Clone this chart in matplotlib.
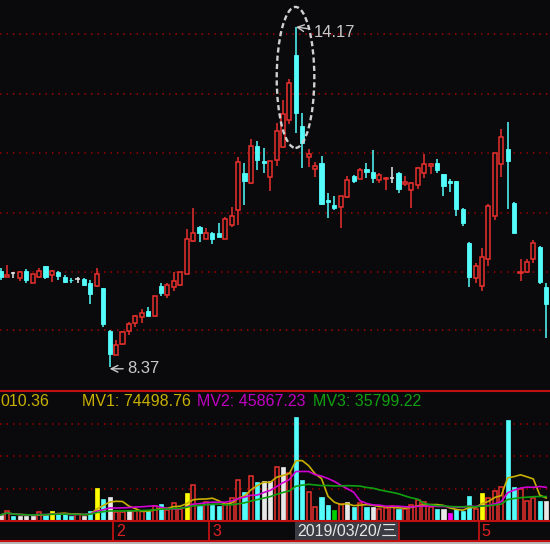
import numpy as np
import pandas as pd
import matplotlib
matplotlib.use("Agg")
import matplotlib.pyplot as plt
from matplotlib.patches import Ellipse, Rectangle

# ---------------- data ----------------
opens = [10.01, 9.91, 9.97, 9.89, 10.01, 9.80, 9.91, 10.09, 9.94, 9.99,
         9.91, 9.86, 9.87, 9.87, 9.80, 9.75, 9.72, 8.98, 8.58, 8.76,
         8.98, 9.12, 9.22, 9.33, 9.24, 9.75, 9.60, 9.74, 9.77, 9.96,
         10.52, 10.76, 10.56, 10.66, 10.66, 10.56, 10.80, 11.05, 11.68, 11.51,
         12.14, 11.88, 11.61, 11.90, 12.12, 12.58, 13.69, 12.48, 11.95, 11.75,
         11.85, 11.22, 11.13, 11.10, 11.27, 11.63, 11.58, 11.75, 11.70, 11.56,
         11.58, 11.59, 11.68, 11.50, 11.39, 11.48, 11.68, 11.80, 11.85, 11.66,
         11.54, 11.54, 11.07, 10.49, 9.89, 9.75, 10.21, 10.95, 11.83, 12.09,
         11.17, 9.98, 9.99, 10.21, 10.42, 9.74]
highs = [10.06, 10.11, 9.99, 10.00, 10.04, 9.96, 10.06, 10.10, 10.02, 10.00,
         9.94, 9.89, 9.91, 9.89, 9.85, 10.06, 9.72, 9.00, 8.83, 8.98,
         9.14, 9.26, 9.36, 9.39, 9.58, 9.80, 9.80, 9.99, 9.99, 10.73,
         11.08, 10.77, 10.75, 10.67, 10.83, 10.93, 11.10, 11.95, 11.85, 12.26,
         12.23, 12.11, 11.88, 12.53, 12.93, 13.28, 14.17, 12.70, 12.09, 11.87,
         11.97, 11.34, 11.29, 11.29, 11.63, 11.64, 11.77, 11.85, 12.07, 11.68,
         11.61, 11.78, 11.69, 11.63, 11.52, 11.78, 12.00, 11.85, 11.92, 11.67,
         11.58, 11.55, 11.08, 10.50, 10.14, 10.40, 11.15, 12.02, 12.43, 12.55,
         11.18, 10.21, 10.21, 10.54, 10.43, 9.80]
lows = [9.85, 9.90, 9.89, 9.84, 9.80, 9.80, 9.89, 9.87, 9.82, 9.85,
        9.80, 9.80, 9.80, 9.75, 9.44, 9.74, 9.05, 8.37, 8.57, 8.75,
        8.91, 9.05, 9.12, 9.24, 9.23, 9.58, 9.55, 9.67, 9.76, 9.95,
        10.51, 10.51, 10.55, 10.47, 10.59, 10.55, 10.76, 10.80, 11.13, 11.50,
        11.73, 11.68, 11.38, 11.80, 12.11, 12.52, 12.36, 11.77, 11.78, 11.61,
        11.13, 10.92, 11.05, 10.75, 11.26, 11.51, 11.57, 11.59, 11.51, 11.51,
        11.39, 11.51, 11.34, 11.46, 11.08, 11.41, 11.59, 11.66, 11.68, 11.29,
        11.36, 10.95, 10.78, 9.74, 9.80, 9.67, 10.09, 10.88, 11.61, 11.07,
        10.66, 9.84, 9.97, 10.14, 9.79, 8.86]
closes = [9.91, 9.94, 9.97, 9.99, 9.85, 9.96, 10.01, 9.91, 10.01, 9.92,
          9.82, 9.85, 9.87, 9.77, 9.61, 9.96, 9.10, 8.59, 8.75, 8.97,
          9.10, 9.24, 9.29, 9.24, 9.58, 9.63, 9.77, 9.84, 9.99, 10.56,
          10.66, 10.66, 10.66, 10.56, 10.59, 10.90, 10.95, 11.87, 11.54, 12.14,
          11.90, 11.85, 11.88, 12.40, 12.68, 13.22, 12.70, 12.19, 12.00, 11.80,
          11.15, 11.19, 11.08, 11.29, 11.56, 11.54, 11.73, 11.70, 11.59, 11.65,
          11.60, 11.59, 11.41, 11.53, 11.51, 11.77, 11.83, 11.83, 11.73, 11.46,
          11.51, 11.07, 10.83, 9.91, 10.09, 10.25, 11.12, 12.02, 12.29, 11.88,
          10.66, 9.99, 10.16, 10.48, 9.82, 9.44]
volumes = [7440, 12400, 6200, 6200, 6200, 6200, 11160, 7440, 12400, 8680,
           8680, 6200, 8680, 6200, 12400, 40920, 27900, 29760, 11160, 11160,
           12400, 12400, 12400, 12400, 18600, 21080, 14260, 22940, 14880, 34720,
           44640, 18600, 23560, 19840, 18600, 21080, 29140, 50840, 35960, 55800,
           48360, 49600, 49600, 67580, 67580, 59520, 128960, 50840, 35960, 17360,
           29760, 19840, 13640, 21080, 23560, 17360, 22320, 17360, 17360, 14880,
           16120, 18600, 14880, 14880, 19840, 26040, 23560, 17360, 14880, 14880,
           9920, 14880, 12400, 31000, 14880, 34720, 28520, 37200, 42160, 125240,
           42160, 39680, 24800, 28520, 24800, 24800]
vol_kind = list("wrcwwwrcyc" "ccrwcycwrr" "wrrcrcrrry" "rcrccrrrcr"
                "cwwrwrccrr" "ccgrwcrcwr" "rrcrrrrrcw" "mcccryrrrc"
                "crrrcw")
mv_labels = ["010.36", "MV1: 74498.76", "MV2: 45867.23", "MV3: 35799.22"]
month_labels = ["2", "3", "5"]
month_pos = [17.5, 32.5, 74.5]
cursor_label = "2019/03/20/\u4e09"
hi_label, lo_label = "14.17", "8.37"
price_grid = [14.05, 13.03, 12.02, 11.00, 9.99, 9.00]
vol_grid = [40000, 80000, 120000]

# ---------------- style ----------------
BG = "#0a0a0d"
RED = "#e8302c"
CYAN = "#54fcfc"
WHITE = "#e8e8e8"
GRID = "#a00000"
AXRED = "#c01010"
KIND_COL = {"r": RED, "c": CYAN, "w": WHITE, "y": "#ffff00", "g": "#00d000", "m": "#ff00ff"}
FONT = ["Liberation Sans", "Noto Sans CJK SC", "DejaVu Sans"]
plt.rcParams["font.family"] = FONT

W, H = 550, 544
fig = plt.figure(figsize=(W / 100, H / 100), dpi=100, facecolor=BG)

def fy(py):
    return 1 - py / H

PX = 6.42            # pixels per candle
x0 = -0.08
xlim = (x0, x0 + W / PX)

ax = fig.add_axes([0, fy(391), 1, 391 / H], facecolor=BG)
axv = fig.add_axes([0, fy(521), 1, 130 / H], facecolor=BG)
for a in (ax, axv):
    a.set_xlim(*xlim)
    a.set_xticks([]); a.set_yticks([])
    for s in a.spines.values():
        s.set_visible(False)

ax.set_ylim(7.961, 14.631)
axv.set_ylim(0, 161200)

o = np.array(opens); h = np.array(highs); l = np.array(lows); c = np.array(closes)
x = np.arange(len(o))
up = c > o
dn = c < o
fl = c == o
BW = 0.64

for g in price_grid:
    ax.axhline(g, color=GRID, lw=1.2, ls=(0, (0.8, 3.1)), zorder=0)
for g in vol_grid:
    axv.axhline(g, color=GRID, lw=1.2, ls=(0, (0.8, 3.1)), zorder=0)

# down candles (filled cyan)
ax.vlines(x[dn], l[dn], h[dn], color=CYAN, lw=1.1, zorder=2)
ax.bar(x[dn], o[dn] - c[dn], bottom=c[dn], width=BW, color=CYAN,
       edgecolor=CYAN, lw=0.6, zorder=3)
# up candles (hollow red)
ax.vlines(x[up], l[up], o[up], color=RED, lw=1.1, zorder=2)
ax.vlines(x[up], c[up], h[up], color=RED, lw=1.1, zorder=2)
ax.bar(x[up], c[up] - o[up], bottom=o[up], width=BW, facecolor=BG,
       edgecolor=RED, lw=1.1, zorder=3)
# flat candles
ax.vlines(x[fl], l[fl], h[fl], color=WHITE, lw=1.1, zorder=2)
ax.hlines(o[fl], x[fl] - BW / 2, x[fl] + BW / 2, color=WHITE, lw=1.1, zorder=3)

# high / low annotations
ax.annotate(hi_label, xy=(46, 14.17), xytext=(48.75, 14.08),
            color="#c8c8c8", fontsize=12, va="center", ha="left",
            arrowprops=dict(arrowstyle="->", color="#c8c8c8", lw=1,
                            shrinkA=1, shrinkB=0))
ax.annotate(lo_label, xy=(17, 8.34), xytext=(19.75, 8.34),
            color="#c8c8c8", fontsize=12, va="center", ha="left",
            arrowprops=dict(arrowstyle="->", color="#c8c8c8", lw=1,
                            shrinkA=1, shrinkB=0))
ax.add_patch(Ellipse((45.95, 13.31), 5.86, 2.405, fill=False,
                     ec="#d0d0d0", lw=1.7, ls=(0, (2.2, 1.3)), zorder=5))

# volume bars
v = np.array(volumes)
kinds = np.array(vol_kind)
for k, col in KIND_COL.items():
    m = kinds == k
    if not m.any():
        continue
    if k == "r":
        axv.bar(x[m], v[m], width=BW, facecolor=BG, edgecolor=RED, lw=1.1, zorder=2)
    else:
        axv.bar(x[m], v[m], width=BW, color=col, edgecolor=col, lw=0.5, zorder=2)

vs = pd.Series(volumes, dtype=float)
axv.plot(x, vs.rolling(5, min_periods=1).mean(), color="#c8b000", lw=1.2, zorder=4)
axv.plot(x, vs.rolling(10, min_periods=1).mean(), color="#d000d0", lw=1.2, zorder=4)
axv.plot(x, vs.rolling(20, min_periods=1).mean(), color="#10a010", lw=1.2, zorder=4)

# frame lines
for py in (391, 521, 541):
    fig.add_artist(plt.Line2D([0, 1], [fy(py), fy(py)], color=AXRED, lw=1.5))
fig.add_artist(Rectangle((0, 0), 1, fy(542.2), transform=fig.transFigure,
                         color="#b8b8b8", lw=0))

# legend texts of volume panel
mv_cols = ["#c8b000", "#c8b000", "#c000c0", "#10a010"]
mv_x = [0, 82, 197, 313]
for t, col, px in zip(mv_labels, mv_cols, mv_x):
    fig.text(px / W, fy(402), t, color=col, fontsize=11.5, va="center", ha="left")

# month separators
for lab, pos in zip(month_labels, month_pos):
    px = (pos - x0) * PX
    fig.add_artist(plt.Line2D([px / W, px / W], [fy(521), fy(541)], color=AXRED, lw=1.3))
    fig.text((px + 3) / W, fy(532), lab, color="#e02020", fontsize=11.5,
             va="center", ha="left")

# cursor date box
fig.add_artist(Rectangle((295 / W, fy(541)), 104 / W, 19 / H, transform=fig.transFigure,
                         facecolor="#3c3c44", edgecolor="none"))
fig.add_artist(plt.Line2D([399 / W, 399 / W], [fy(521), fy(541)], color=AXRED, lw=1.3))
fig.text(297 / W, fy(531.5), cursor_label, color="#e6e6e6", fontsize=11.5,
         va="center", ha="left")

fig.savefig("out.png", dpi=100, facecolor=BG)
